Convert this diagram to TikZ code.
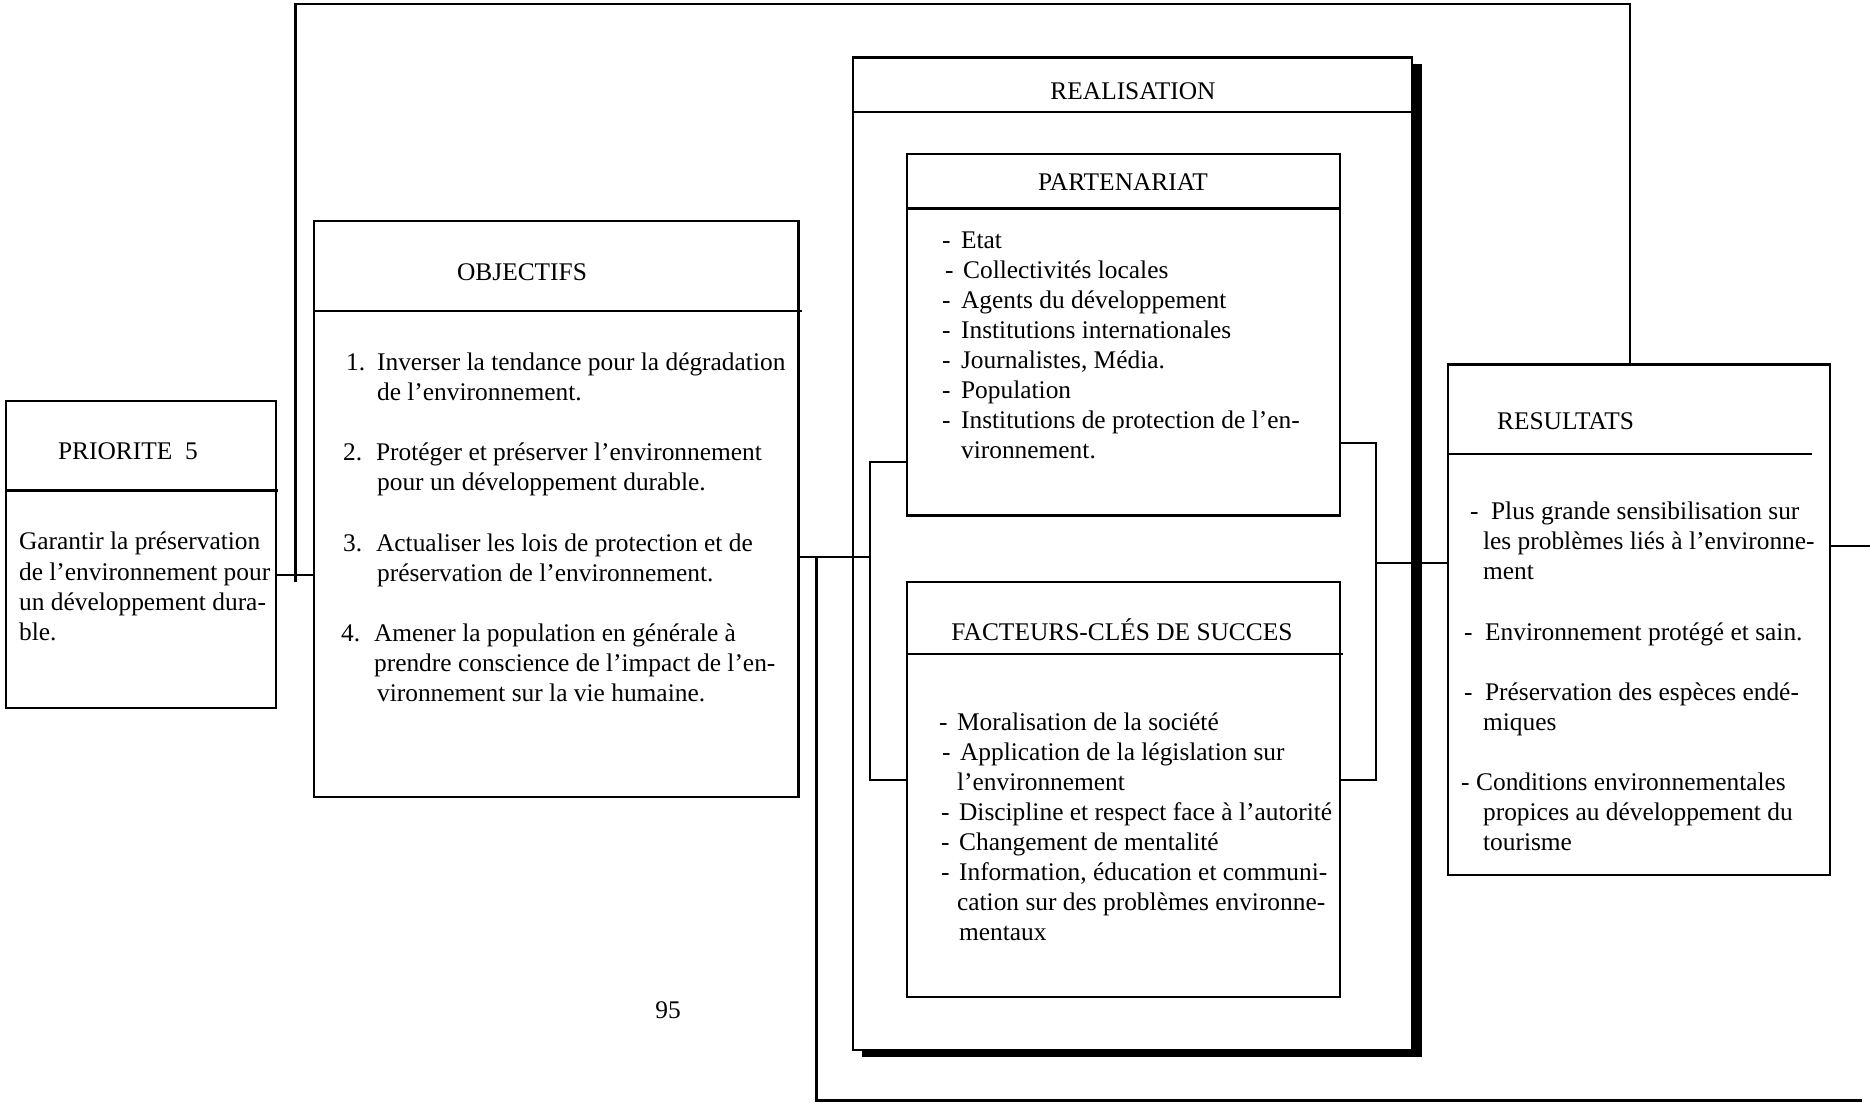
\documentclass[tikz,border=0pt]{standalone}
\usepackage{fontspec}
\setmainfont{Liberation Serif}
\usetikzlibrary{fit}
\newcommand\mytext[4]{\node[txt] (#1) at (#2,#3) {#4};}
\begin{document}
\begin{tikzpicture}[x=0.5pt,y=-0.5pt,line width=1.1pt,
  boxst/.style={draw,fill=white,inner sep=0pt,line width=1.1pt},
  txt/.style={inner sep=0pt,anchor=base west,font=\fontsize{12.7}{15}\selectfont},
  ttl/.style={inner sep=0pt,anchor=base,font=\fontsize{12.7}{15}\selectfont}]
\useasboundingbox (0,0) rectangle (1870,1103);

% ---------- boxes ----------
\node[boxst,fit={(6,401) (275.7,708)}] (prio) {};
\draw (6,490.5) -- (278,490.5);
\node[boxst,fit={(314,221) (798.5,797)}] (obj) {};
\draw (314,310.6) -- (802,310.6);
\node[fit={(862,64) (1421.5,1057)},inner sep=0pt,fill=black] (realshadow) {};
\node[boxst,fit={(852.7,57.4) (1412,1050)}] (real) {};
\draw (852.7,112) -- (1412,112);
\node[boxst,fit={(906.7,154) (1340,515.5)}] (part) {};
\draw (906.7,208.5) -- (1340,208.5);
\node[boxst,fit={(906.7,581.7) (1340,997)}] (fact) {};
\draw (906.7,654) -- (1343,654);
\node[boxst,fit={(1448,364.4) (1830,875)}] (res) {};
\draw (1448,454.3) -- (1812,454.3);

% ---------- connectors ----------
\coordinate (yPO) at (0,575);
\coordinate (fbx) at (1630.3,0);
\coordinate (fbtop) at (0,4);
\coordinate (fbL) at (295.5,581.7);
\coordinate (yOR) at (0,556.7);
\coordinate (brL) at (870,0);
\coordinate (yBT) at (0,461.7);
\coordinate (yBB) at (0,780);
\coordinate (brR) at (1376,0);
\coordinate (yRT) at (0,443.3);
\coordinate (yRR) at (0,563.3);
\coordinate (botx) at (816.5,0);
\coordinate (endB) at (1862,1100.5);
\coordinate (outR) at (1870,545.7);

\draw (prio.east |- yPO) -- (obj.west |- yPO);
\draw (res.north -| fbx) -- (fbx |- fbtop) -- (fbL |- fbtop) -- (fbL);
\draw (obj.east |- yOR) -- (brL |- yOR);
\draw (part.west |- yBT) -- (brL |- yBT) -- (brL |- yBB) -- (fact.west |- yBB);
\draw (botx |- yOR) -- (botx |- endB) -- (endB);
\draw (part.east |- yRT) -- (brR |- yRT) -- (brR |- yBB) -- (fact.east |- yBB);
\draw (brR |- yRR) -- (res.west |- yRR);
\draw (res.east |- outR) -- (outR);

% ---------- PRIORITE ----------
\mytext{pt}{57}{459.5}{PRIORITE\ \ 5}
\mytext{p1}{18}{549}{Garantir la préservation}
\mytext{p2}{18}{580}{de l’environnement pour}
\mytext{p3}{18}{610}{un développement dura-}
\mytext{p4}{18}{640}{ble.}

% ---------- OBJECTIFS ----------
\mytext{ot}{456}{280}{OBJECTIFS}
\mytext{on1}{345}{370}{1.}
\mytext{o1a}{376}{370}{Inverser la tendance pour la dégradation}
\mytext{o1b}{376}{400}{de l’environnement.}
\mytext{on2}{342}{460}{2.}
\mytext{o2a}{375}{460}{Protéger et préserver l’environnement}
\mytext{o2b}{376}{490}{pour un développement durable.}
\mytext{on3}{342}{551}{3.}
\mytext{o3a}{375}{551}{Actualiser les lois de protection et de}
\mytext{o3b}{376}{581}{préservation de l’environnement.}
\mytext{on4}{340}{641}{4.}
\mytext{o4a}{373}{641}{Amener la population en générale à}
\mytext{o4b}{373}{671}{prendre conscience de l’impact de l’en-}
\mytext{o4c}{376}{701}{vironnement sur la vie humaine.}

% ---------- REALISATION ----------
\node[ttl] (rt) at (1133,99) {REALISATION};

% ---------- PARTENARIAT ----------
\node[ttl] (pat) at (1123,190) {PARTENARIAT};
\mytext{pd1}{941}{248}{-}\mytext{pa1}{960}{248}{Etat}
\mytext{pd2}{944}{278}{-}\mytext{pa2}{962}{278}{Collectivités locales}
\mytext{pd3}{941}{308}{-}\mytext{pa3}{960}{308}{Agents du développement}
\mytext{pd4}{941}{338}{-}\mytext{pa4}{960}{338}{Institutions internationales}
\mytext{pd5}{941}{368}{-}\mytext{pa5}{960}{368}{Journalistes, Média.}
\mytext{pd6}{941}{398}{-}\mytext{pa6}{960}{398}{Population}
\mytext{pd7}{941}{428}{-}\mytext{pa7}{960}{428}{Institutions de protection de l’en-}
\mytext{pa8}{960}{458}{vironnement.}

% ---------- FACTEURS ----------
\node[ttl] (ft) at (1122,640) {FACTEURS-CLÉS DE SUCCES};
\mytext{fd1}{938}{730}{-}\mytext{fa1}{956}{730}{Moralisation de la société}
\mytext{fd2}{941}{760}{-}\mytext{fa2}{959}{760}{Application de la législation sur}
\mytext{fa3}{956}{790}{l’environnement}
\mytext{fd4}{940}{820}{-}\mytext{fa4}{958}{820}{Discipline et respect face à l’autorité}
\mytext{fd5}{940}{850}{-}\mytext{fa5}{958}{850}{Changement de mentalité}
\mytext{fd6}{940}{880}{-}\mytext{fa6}{958}{880}{Information, éducation et communi-}
\mytext{fa7}{956}{910}{cation sur des problèmes environne-}
\mytext{fa8}{958}{940}{mentaux}

% ---------- RESULTATS ----------
\mytext{rst}{1496}{429.6}{RESULTATS}
\mytext{rd1}{1469}{519}{-}\mytext{ra1}{1490}{519}{Plus grande sensibilisation sur}
\mytext{ra2}{1482}{549}{les problèmes liés à l’environne-}
\mytext{ra3}{1482}{579}{ment}
\mytext{rd4}{1463}{640}{-}\mytext{ra4}{1484}{640}{Environnement protégé et sain.}
\mytext{rd5}{1463}{700}{-}\mytext{ra5}{1484}{700}{Préservation des espèces endé-}
\mytext{ra6}{1482}{730}{miques}
\mytext{rd7}{1460}{790}{-}\mytext{ra7}{1475}{790}{Conditions environnementales}
\mytext{ra8}{1482}{820}{propices au développement du}
\mytext{ra9}{1482}{850}{tourisme}

% ---------- page number ----------
\node[ttl] (pnum) at (668,1018) {95};
\end{tikzpicture}
\end{document}
